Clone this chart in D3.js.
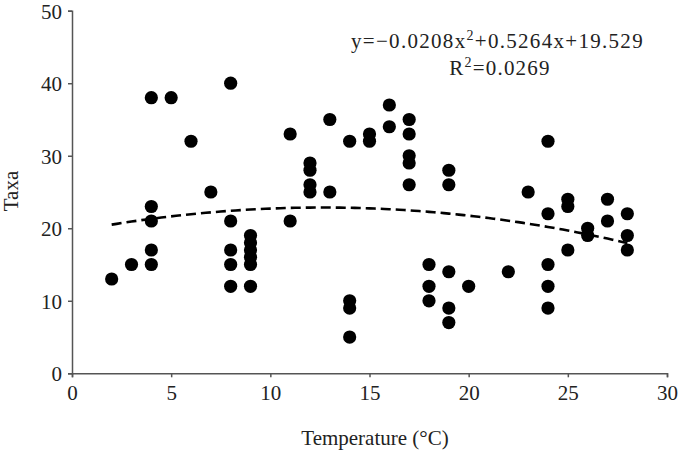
<!DOCTYPE html>
<html><head><meta charset="utf-8">
<script src="https://cdn.jsdelivr.net/npm/d3@7"></script>
<style>body{margin:0;background:#fff}svg{display:block}text{font-family:"Liberation Serif","Times New Roman",serif;fill:#222}</style>
</head><body><svg id="c" width="682" height="450"></svg>
<script>
const temperature = [2,3,4,4,4,4,4,5,6,7,8,8,8,8,8,9,9,9,9,9,9,11,11,12,12,12,12,13,13,14,14,14,14,15,15,16,16,17,17,17,17,17,18,18,18,19,19,19,19,19,20,22,23,24,24,24,24,24,25,25,25,26,26,27,27,28,28,28];
const taxa = [13,15,38,23,21,17,15,38,32,25,40,21,17,15,12,19,18,17,16,15,12,33,21,29,28,26,25,35,25,32,10,9,5,33,32,37,34,35,33,30,29,26,15,12,10,28,26,14,9,7,12,14,25,32,22,15,12,9,24,23,17,20,19,24,21,22,19,17];
const fitCoef = [-0.0208, 0.5264, 19.529];
const fitRange = [2, 28];
const xTicks = [0,5,10,15,20,25,30];
const yTicks = [0,10,20,30,40,50];
const eqLabel = "y=\u22120.0208x";
const eqLabel2 = "+0.5264x+19.529";
const r2Label = "0.0269";

const svg = d3.select("#c");
const x = d3.scaleLinear().domain([0,30]).range([72,667]);
const y = d3.scaleLinear().domain([0,50]).range([373.3,10.7]);

const ax = svg.append("g").attr("transform","translate(0,373.3)")
  .call(d3.axisBottom(x).tickValues(xTicks).tickSize(4).tickPadding(7));
const ay = svg.append("g").attr("transform","translate(72,0)")
  .call(d3.axisLeft(y).tickValues(yTicks).tickSize(4).tickPadding(6));
[ax,ay].forEach(g=>{
  g.select(".domain").attr("stroke","#555").attr("stroke-width",1.5);
  g.selectAll(".tick line").attr("stroke","#555").attr("stroke-width",1.5);
  g.selectAll(".tick text").attr("font-family","Liberation Serif").attr("font-size",21).attr("fill","#222");
});
ax.selectAll(".tick text").attr("dy","0.75em");
ay.selectAll(".tick text").attr("dy","0.35em");

svg.append("text").attr("x",375).attr("y",445).attr("text-anchor","middle").attr("font-size",21).text("Temperature (\u00B0C)");
svg.append("text").attr("transform","translate(18,191) rotate(-90)").attr("text-anchor","middle").attr("font-size",21).text("Taxa");

const pts = temperature.map((t,i)=>({t, v: taxa[i]}));
svg.append("g").selectAll("circle").data(pts).join("circle")
  .attr("cx",d=>x(d.t)).attr("cy",d=>y(d.v)).attr("r",6.6).attr("fill","#000");

const fx = d3.range(fitRange[0], fitRange[1]+0.001, 0.25);
const line = d3.line().x(d=>x(d)).y(d=>y(fitCoef[0]*d*d+fitCoef[1]*d+fitCoef[2]));
svg.append("path").datum(fx).attr("d",line).attr("fill","none").attr("stroke","#000")
  .attr("stroke-width",2.6).attr("stroke-dasharray","10,5");

const t1 = svg.append("text").attr("x",497.5).attr("y",48.3).attr("text-anchor","middle").attr("font-size",21).attr("letter-spacing",1.3);
t1.append("tspan").text(eqLabel);
t1.append("tspan").attr("dy",-8).attr("font-size",14).text("2");
t1.append("tspan").attr("dy",8).text(eqLabel2);
const t2 = svg.append("text").attr("x",500).attr("y",75).attr("text-anchor","middle").attr("font-size",21).attr("letter-spacing",1.2);
t2.append("tspan").text("R");
t2.append("tspan").attr("dy",-8).attr("font-size",14).text("2");
t2.append("tspan").attr("dy",8).text("="+r2Label);
</script></body></html>
